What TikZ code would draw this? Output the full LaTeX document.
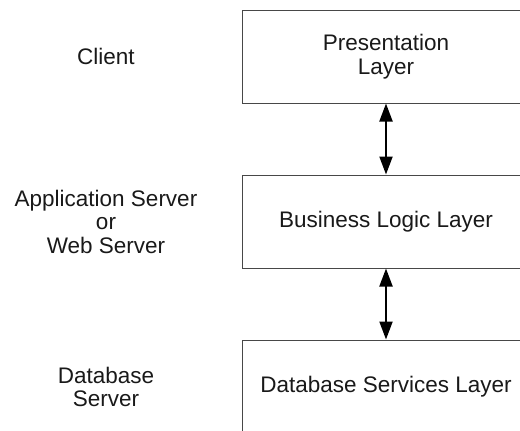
\documentclass[tikz,border=0pt]{standalone}
\usepackage{fontspec}
\setmainfont{Liberation Sans}
\usetikzlibrary{arrows.meta}

\tikzset{
  layerbox/.style={draw=black!72, line width=1pt, minimum width=288pt,
    minimum height=93pt, align=center, inner sep=0pt},
  tierlabel/.style={align=center, inner sep=0pt},
  link/.style={line width=2pt, {Triangle[length=18pt,width=13pt]}-{Triangle[length=18pt,width=13pt]}},
  every node/.style={font=\fontsize{22.5}{23.5}\selectfont, text=black!90}
}

\begin{document}
\begin{tikzpicture}[x=1pt,y=-1pt]
  \useasboundingbox (0,0) rectangle (520,431);
  \clip (0,0) rectangle (520,431);

  % the three layers
  \node[layerbox] (pres) at (386,56.5)  {Presentation\\Layer};
  \node[layerbox] (biz)  at (386,221.5) {Business Logic Layer};
  \node[layerbox] (db)   at (386,386.5) {Database Services Layer};

  % where each layer runs
  \node[tierlabel] (client) at (106,56.5)  {Client};
  \node[tierlabel] (appsrv) at (106,221.5) {Application Server\\or\\Web Server};
  \node[tierlabel] (dbsrv)  at (106,387)   {Database\\Server};

  % two-way links between layers
  \draw[link] (pres.south) -- (biz.north);
  \draw[link] (biz.south) -- (db.north);
\end{tikzpicture}
\end{document}
